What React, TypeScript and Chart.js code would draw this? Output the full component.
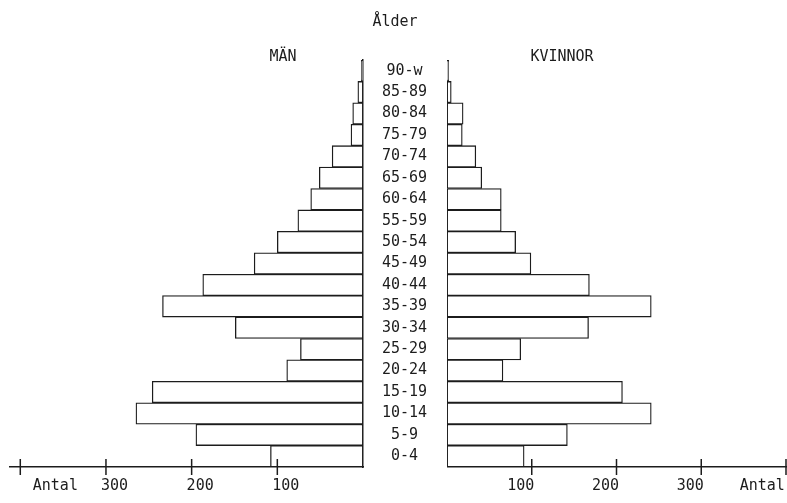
import React, { useEffect, useRef } from 'react';
import { Chart, registerables } from 'chart.js';

Chart.register(...registerables);

// Age groups from the youngest (bottom) to the oldest (top)
const ageGroups = ['0-4', '5-9', '10-14', '15-19', '20-24', '25-29', '30-34', '35-39', '40-44', '45-49', '50-54', '55-59', '60-64', '65-69', '70-74', '75-79', '80-84', '85-89', '90-w'];
// Antal (count) per age group
const menValues = [108, 195, 265, 246, 89, 73, 149, 234, 187, 127, 100, 76, 61, 51, 36, 14, 12, 6, 2];
const womenValues = [91, 142, 241, 207, 66, 87, 167, 241, 168, 99, 81, 64, 64, 41, 34, 18, 19, 5, 2];
// Axis tick marks and labels
const tickMarkValues = [100, 200, 300, 400];
const tickLabels = ['100', '200', '300', 'Antal'];
const menLabelValues = [100, 200, 300, 369];
const womenLabelValues = [100, 200, 300, 385];

const INK = '#1c1c1c';
const FONT = "'DejaVu Sans Mono', 'Liberation Mono', monospace";

const tickMarks = {
  id: 'tickMarks',
  afterDraw(chart: any) {
    const xs = chart.scales.x;
    const y = chart.chartArea.bottom;
    const ctx = chart.ctx;
    ctx.save();
    ctx.strokeStyle = INK;
    ctx.lineWidth = 1.5;
    tickMarkValues.forEach((v) => {
      const px = xs.getPixelForValue(v);
      ctx.beginPath();
      ctx.moveTo(px, y - 8);
      ctx.lineTo(px, y + 8);
      ctx.stroke();
    });
    ctx.restore();
  },
};

function barDataset(label: string, data: number[]) {
  return {
    label,
    data,
    backgroundColor: '#ffffff',
    borderColor: INK,
    borderWidth: 1.3,
    borderSkipped: false as const,
    barPercentage: 1,
    categoryPercentage: 1,
  };
}

function xScale(reverse: boolean, max: number, labelValues: number[], labelOffset: number) {
  return {
    type: 'linear' as const,
    position: 'bottom' as const,
    reverse,
    min: 0,
    max,
    afterBuildTicks: (scale: any) => {
      scale.ticks = labelValues.map((v) => ({ value: v }));
    },
    afterFit: (scale: any) => {
      scale.height = 36;
      scale.paddingLeft = 0;
      scale.paddingRight = 0;
    },
    grid: { display: false, drawTicks: false },
    border: { display: true, color: INK, width: 1.5 },
    ticks: {
      autoSkip: false,
      maxRotation: 0,
      padding: 10,
      labelOffset,
      color: INK,
      font: { family: FONT, size: 15 },
      callback: (_v: any, i: number) => tickLabels[i],
    },
  };
}

export default function App() {
  const leftRef = useRef<HTMLCanvasElement | null>(null);
  const rightRef = useRef<HTMLCanvasElement | null>(null);

  useEffect(() => {
    const left = new Chart(leftRef.current as HTMLCanvasElement, {
      type: 'bar',
      data: { labels: ageGroups, datasets: [barDataset('MÄN', menValues)] },
      options: {
        indexAxis: 'y',
        animation: false,
        responsive: true,
        maintainAspectRatio: false,
        layout: { padding: { top: 60, left: 10, right: 0, bottom: 0 } },
        plugins: { legend: { display: false }, tooltip: { enabled: false }, title: { display: false } },
        scales: {
          x: xScale(true, 412, menLabelValues, 8.5),
          y: {
            type: 'category',
            position: 'right',
            reverse: true,
            afterFit: (scale: any) => {
              scale.width = 84;
            },
            grid: { display: false, drawTicks: false },
            border: { display: true, color: INK, width: 1.5 },
            ticks: {
              crossAlign: 'center',
              padding: 19,
              color: INK,
              font: { family: FONT, size: 15 },
            },
          },
        },
      },
      plugins: [tickMarks],
    } as any);

    const right = new Chart(rightRef.current as HTMLCanvasElement, {
      type: 'bar',
      data: { labels: ageGroups, datasets: [barDataset('KVINNOR', womenValues)] },
      options: {
        indexAxis: 'y',
        animation: false,
        responsive: true,
        maintainAspectRatio: false,
        layout: { padding: { top: 60, left: 0, right: 1, bottom: 0 } },
        plugins: { legend: { display: false }, tooltip: { enabled: false }, title: { display: false } },
        scales: {
          x: xScale(false, 400, womenLabelValues, -11),
          y: { type: 'category', reverse: true, display: false },
        },
      },
      plugins: [tickMarks],
    } as any);

    return () => {
      left.destroy();
      right.destroy();
    };
  }, []);

  const textStyle = (x: number, y: number): React.CSSProperties => ({
    position: 'absolute',
    left: x,
    top: y,
    transform: 'translate(-50%, -50%)',
    fontFamily: FONT,
    fontSize: 15,
    lineHeight: 1,
    color: INK,
    whiteSpace: 'nowrap',
  });

  return (
    <div style={{ position: 'fixed', left: 0, top: 0, width: 787, height: 503, background: '#ffffff', overflow: 'hidden' }}>
      <div style={{ position: 'absolute', left: 0, top: 0, width: 447, height: 503 }}>
        <canvas ref={leftRef} />
      </div>
      <div style={{ position: 'absolute', left: 447, top: 0, width: 340, height: 503 }}>
        <canvas ref={rightRef} />
      </div>
      <div style={textStyle(395, 21)}>Ålder</div>
      <div style={textStyle(283, 56)}>MÄN</div>
      <div style={textStyle(562, 56)}>KVINNOR</div>
    </div>
  );
}
